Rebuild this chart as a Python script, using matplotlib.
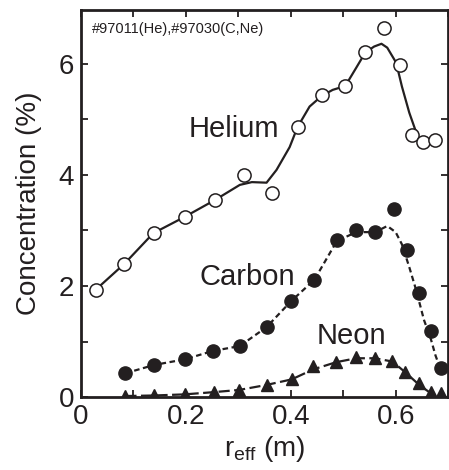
import matplotlib
matplotlib.use("Agg")
import matplotlib.pyplot as plt
from matplotlib.ticker import MultipleLocator

plt.rcParams['font.family'] = ['Liberation Sans', 'DejaVu Sans']

# measured points
he_r = [0.028, 0.083, 0.139, 0.198, 0.256, 0.311, 0.365, 0.414, 0.459, 0.504,
        0.542, 0.577, 0.609, 0.632, 0.652, 0.675]
he_c = [1.93, 2.40, 2.95, 3.24, 3.55, 4.00, 3.67, 4.87, 5.43, 5.60,
        6.21, 6.65, 5.98, 4.72, 4.60, 4.63]

c_r = [0.085, 0.140, 0.198, 0.251, 0.303, 0.354, 0.401, 0.445, 0.488, 0.525,
       0.561, 0.596, 0.621, 0.645, 0.667, 0.686]
c_c = [0.43, 0.58, 0.68, 0.83, 0.92, 1.26, 1.73, 2.11, 2.83, 3.01,
       2.97, 3.38, 2.65, 1.87, 1.19, 0.52]

ne_r = [0.085, 0.140, 0.198, 0.253, 0.302, 0.354, 0.402, 0.443, 0.487, 0.525,
        0.561, 0.594, 0.618, 0.645, 0.667, 0.686]
ne_c = [0.02, 0.04, 0.05, 0.09, 0.13, 0.22, 0.32, 0.56, 0.63, 0.72,
        0.70, 0.65, 0.45, 0.25, 0.09, 0.07]

# smoothed fit curves
he_fit_r = [0.028, 0.083, 0.138, 0.197, 0.256, 0.303, 0.326, 0.354, 0.373, 0.398,
            0.413, 0.436, 0.459, 0.480, 0.504, 0.525, 0.542, 0.559, 0.573, 0.584,
            0.601, 0.612, 0.626, 0.639]
he_fit_c = [1.93, 2.40, 2.95, 3.24, 3.55, 3.82, 3.87, 3.86, 4.09, 4.50,
            4.86, 5.23, 5.42, 5.53, 5.60, 5.93, 6.20, 6.31, 6.36, 6.29,
            6.02, 5.59, 5.12, 4.77]

c_fit_r = [0.085, 0.140, 0.198, 0.251, 0.303, 0.354, 0.401, 0.445, 0.488, 0.525,
           0.561, 0.584, 0.600, 0.612, 0.626, 0.639, 0.654, 0.667, 0.676, 0.686]
c_fit_c = [0.43, 0.58, 0.68, 0.83, 0.92, 1.26, 1.73, 2.11, 2.81, 2.97,
           2.97, 3.08, 2.97, 2.75, 2.34, 1.93, 1.39, 1.05, 0.75, 0.49]

ne_fit_r = [0.085, 0.140, 0.198, 0.253, 0.302, 0.354, 0.402, 0.443, 0.487, 0.525,
            0.561, 0.594, 0.618, 0.645, 0.667]
ne_fit_c = [0.02, 0.03, 0.05, 0.09, 0.13, 0.22, 0.32, 0.50, 0.63, 0.70,
            0.70, 0.64, 0.45, 0.22, 0.07]

ink = '#231f20'

fig = plt.figure(figsize=(4.49, 4.70), dpi=100)
ax = fig.add_axes([0.18, 0.155, 0.818, 0.824])

ax.plot(he_fit_r, he_fit_c, '-', color=ink, lw=1.6, zorder=2)
ax.plot(c_fit_r, c_fit_c, color=ink, lw=1.6, dashes=(2.5, 1.6), zorder=2)
ax.plot(ne_fit_r, ne_fit_c, color=ink, lw=1.6, dashes=(5, 2), zorder=2)

ax.plot(he_r, he_c, 'o', ms=9.5, mfc='white', mec=ink, mew=1.1, zorder=3)
ax.plot(c_r, c_c, 'o', ms=9.5, mfc=ink, mec=ink, zorder=3)
ax.plot(ne_r, ne_c, '^', ms=9, mfc=ink, mec=ink, zorder=3)

ax.text(0.205, 4.83, 'Helium', fontsize=21, va='center', ha='left', color=ink)
ax.text(0.227, 2.16, 'Carbon', fontsize=21, va='center', ha='left', color=ink)
ax.text(0.449, 1.10, 'Neon', fontsize=21, va='center', ha='left', color=ink)
ax.text(0.022, 6.62, '#97011(He),#97030(C,Ne)', fontsize=10.5, va='center',
        ha='left', color=ink)

ax.set_xlim(0, 0.70)
ax.set_ylim(0, 6.97)
ax.xaxis.set_major_locator(MultipleLocator(0.2))
ax.xaxis.set_minor_locator(MultipleLocator(0.1))
ax.yaxis.set_major_locator(MultipleLocator(2))
ax.yaxis.set_minor_locator(MultipleLocator(1))
ax.set_xticks([0, 0.2, 0.4, 0.6])
ax.set_xticklabels(['0', '0.2', '0.4', '0.6'])
ax.tick_params(which='both', direction='in', top=True, right=True,
               labelsize=20, colors=ink, width=1.3)
ax.tick_params(which='major', length=5)
ax.tick_params(which='minor', length=5)
ax.tick_params(axis='x', which='major', pad=5)
ax.tick_params(axis='y', which='major', pad=5)
for s in ax.spines.values():
    s.set_linewidth(2)
    s.set_color(ink)

ax.set_xlabel(r'r$_{\mathregular{eff}}$ (m)', fontsize=20, color=ink, labelpad=3)
ax.set_ylabel('Concentration (%)', fontsize=20, color=ink, labelpad=12)

fig.savefig('out.png', dpi=100)
